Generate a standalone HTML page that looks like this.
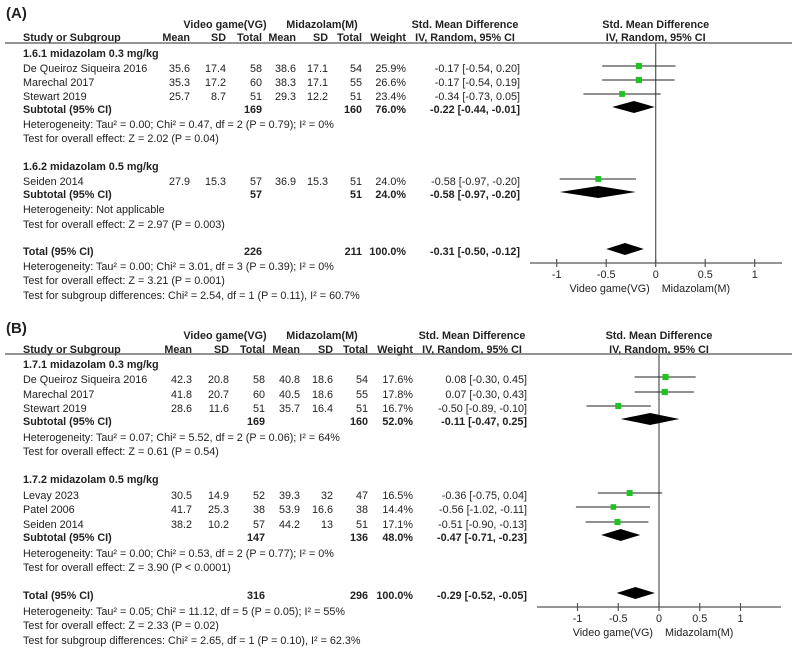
<!DOCTYPE html>
<html><head><meta charset="utf-8"><style>
body{margin:0;background:#fff}
svg{display:block;font-family:"Liberation Sans",Arial,sans-serif;font-size:10.8px;fill:#222}
.b{font-weight:bold}
</style></head><body>
<svg id="c" width="800" height="659" viewBox="0 0 800 659"></svg>
<script>
// ---- Panel A data ----
const aStudies = ["De Queiroz Siqueira 2016","Marechal 2017","Stewart 2019","Seiden 2014"];
const aVals = [[35.6,17.4,58,38.6,17.1,54],[35.3,17.2,60,38.3,17.1,55],[25.7,8.7,51,29.3,12.2,51],[27.9,15.3,57,36.9,15.3,51]];
const aWeights = [25.9,26.6,23.4,24.0];
const aEst = [-0.17,-0.17,-0.34,-0.58];
const aLo = [-0.54,-0.54,-0.73,-0.97];
const aHi = [0.20,0.19,0.05,-0.20];
const aSub = [[-0.22,-0.44,-0.01],[-0.58,-0.97,-0.20]];
const aTotal = [-0.31,-0.50,-0.12];
// ---- Panel B data ----
const bStudies = ["De Queiroz Siqueira 2016","Marechal 2017","Stewart 2019","Levay 2023","Patel 2006","Seiden 2014"];
const bVals = [[42.3,20.8,58,40.8,18.6,54],[41.8,20.7,60,40.5,18.6,55],[28.6,11.6,51,35.7,16.4,51],[30.5,14.9,52,39.3,32,47],[41.7,25.3,38,53.9,16.6,38],[38.2,10.2,57,44.2,13,51]];
const bWeights = [17.6,17.8,16.7,16.5,14.4,17.1];
const bEst = [0.08,0.07,-0.50,-0.36,-0.56,-0.51];
const bLo = [-0.30,-0.30,-0.89,-0.75,-1.02,-0.90];
const bHi = [0.45,0.43,-0.10,0.04,-0.11,-0.13];
const bSub = [[-0.11,-0.47,0.25],[-0.47,-0.71,-0.23]];
const bTotal = [-0.29,-0.52,-0.05];
const tickVals = [-1,-0.5,0,0.5,1];
const tickLabels = ["-1","-0.5","0","0.5","1"];

const NS="http://www.w3.org/2000/svg";
const svg=document.getElementById('c');
function mk(tag,attrs,parent){const e=document.createElementNS(NS,tag);for(const k in attrs)e.setAttribute(k,attrs[k]);(parent||svg).appendChild(e);return e;}
function txt(g,x,y,s,anchor,bold,name){const t=mk('text',{x:x,y:y,'text-anchor':anchor||'start','dominant-baseline':'middle'},g);if(bold)t.setAttribute('class','b');t.textContent=s;


return t;}

function panel(cfg){
  const g=mk('g',{});
  
  
  const X=v=>cfg.zero+v*cfg.unit;
  const col=cfg.cols;
  txt(g,6,cfg.titleY,cfg.title,'start',true,'panel-title').setAttribute('font-size','15');
  txt(g,225,cfg.hy1,'Video game(VG)','middle',true,'vg-group-header');
  txt(g,322,cfg.hy1,'Midazolam(M)','middle',true,'midazolam-group-header');
  txt(g,cfg.ciR-55,cfg.hy1,'Std. Mean Difference','middle',true,'smd-header');
  txt(g,cfg.zero,cfg.hy1,'Std. Mean Difference','middle',true,'plot-header');
  const hs=['Mean','SD','Total','Mean','SD','Total','Weight'];
  txt(g,23,cfg.hy2,'Study or Subgroup','start',true,'study-header');
  hs.forEach((h,i)=>txt(g,col[i],cfg.hy2,h,'end',true,'col-header'));
  txt(g,cfg.ciR-55,cfg.hy2,'IV, Random, 95% CI','middle',true,'ci-header');
  txt(g,cfg.zero,cfg.hy2,'IV, Random, 95% CI','middle',true,'plot-ci-header');
  const hl=mk('line',{x1:5,x2:792,y1:cfg.lineY,y2:cfg.lineY,stroke:'#555','stroke-width':1.3},g);
  
  const vl=mk('line',{x1:cfg.zero,x2:cfg.zero,y1:cfg.lineY,y2:cfg.axisY,stroke:'#555','stroke-width':1.2},g);
  
  const ax=mk('line',{x1:cfg.axL,x2:cfg.axR,y1:cfg.axisY,y2:cfg.axisY,stroke:'#555','stroke-width':1.3},g);
  
  tickVals.forEach((v,i)=>{
    const t=mk('line',{x1:X(v),x2:X(v),y1:cfg.axisY-4,y2:cfg.axisY+4,stroke:'#555','stroke-width':1.2},g);
    
    txt(g,X(v),cfg.axisY+12,tickLabels[i],'middle',false,'x-tick-label');
  });
  txt(g,cfg.zero-6,cfg.axisY+26,'Video game(VG)','end',false,'favours-left');
  txt(g,cfg.zero+6,cfg.axisY+26,'Midazolam(M)','start',false,'favours-right');
  cfg.rows.forEach(r=>{
    if(r.type==='text'){txt(g,23,r.y,r.s,'start',r.bold,r.name);return;}
    if(r.type==='study'){
      const i=r.i;
      txt(g,23,r.y,cfg.studies[i],'start',false,'study-name');
      cfg.vals[i].forEach((v,j)=>txt(g,col[j],r.y,String(v),'end',false,'study-value'));
      txt(g,col[6],r.y,cfg.weights[i].toFixed(1)+'%','end',false,'study-weight');
      txt(g,cfg.ciR,r.y,cfg.est[i].toFixed(2)+' ['+cfg.lo[i].toFixed(2)+', '+cfg.hi[i].toFixed(2)+']','end',false,'study-ci');
      const l=mk('line',{x1:X(cfg.lo[i]),x2:X(cfg.hi[i]),y1:r.y-3,y2:r.y-3,stroke:'#222','stroke-width':1},g);
      
      const s=3+cfg.weights[i]*cfg.sq;
      const q=mk('rect',{x:X(cfg.est[i])-s/2,y:r.y-3-s/2,width:s,height:s,fill:'#1fc21f'},g);
      
      return;
    }
    if(r.type==='sub'){
      const d=r.d;
      txt(g,23,r.y,r.label,'start',true,'subtotal-label');
      txt(g,col[2],r.y,String(r.n1),'end',true,'subtotal-n');
      txt(g,col[5],r.y,String(r.n2),'end',true,'subtotal-n');
      txt(g,col[6],r.y,r.w.toFixed(1)+'%','end',true,'subtotal-weight');
      txt(g,cfg.ciR,r.y,d[0].toFixed(2)+' ['+d[1].toFixed(2)+', '+d[2].toFixed(2)+']','end',true,'subtotal-ci');
      const cy=r.y-3,h=6;
      const p=mk('polygon',{points:`${X(d[1])},${cy} ${X(d[0])},${cy-h} ${X(d[2])},${cy} ${X(d[0])},${cy+h}`,fill:'#000'},g);
      
    }
  });
}

panel({name:'panel-a',title:'(A)',titleY:14,hy1:25,hy2:38,lineY:43,zero:655.7,unit:99,axisY:263,axL:530,axR:782,
 cols:[190,226,262,296,328,362,406],ciR:520,sq:0.12,
 studies:aStudies,vals:aVals,weights:aWeights,est:aEst,lo:aLo,hi:aHi,
 rows:[
  {type:'text',y:54,s:'1.6.1 midazolam 0.3 mg/kg',bold:true,name:'subgroup-heading'},
  {type:'study',y:69,i:0},{type:'study',y:83,i:1},{type:'study',y:97,i:2},
  {type:'sub',y:110,label:'Subtotal (95% CI)',n1:169,n2:160,w:76.0,d:aSub[0],dname:'subtotal-diamond'},
  {type:'text',y:125,s:'Heterogeneity: Tau² = 0.00; Chi² = 0.47, df = 2 (P = 0.79); I² = 0%',name:'heterogeneity'},
  {type:'text',y:139,s:'Test for overall effect: Z = 2.02 (P = 0.04)',name:'overall-effect'},
  {type:'text',y:167,s:'1.6.2 midazolam 0.5 mg/kg',bold:true,name:'subgroup-heading'},
  {type:'study',y:182,i:3},
  {type:'sub',y:195,label:'Subtotal (95% CI)',n1:57,n2:51,w:24.0,d:aSub[1],dname:'subtotal-diamond'},
  {type:'text',y:210,s:'Heterogeneity: Not applicable',name:'heterogeneity'},
  {type:'text',y:225,s:'Test for overall effect: Z = 2.97 (P = 0.003)',name:'overall-effect'},
  {type:'sub',y:252,label:'Total (95% CI)',n1:226,n2:211,w:100.0,d:aTotal,dname:'total-diamond'},
  {type:'text',y:267,s:'Heterogeneity: Tau² = 0.00; Chi² = 3.01, df = 3 (P = 0.39); I² = 0%',name:'heterogeneity'},
  {type:'text',y:281,s:'Test for overall effect: Z = 3.21 (P = 0.001)',name:'overall-effect'},
  {type:'text',y:296,s:'Test for subgroup differences: Chi² = 2.54, df = 1 (P = 0.11), I² = 60.7%',name:'subgroup-differences'}
 ]});

panel({name:'panel-b',title:'(B)',titleY:329,hy1:336,hy2:350,lineY:354,zero:659,unit:81.5,axisY:607,axL:537,axR:781,
 cols:[192,229,265,300,333,368,413],ciR:527,sq:0.18,
 studies:bStudies,vals:bVals,weights:bWeights,est:bEst,lo:bLo,hi:bHi,
 rows:[
  {type:'text',y:365,s:'1.7.1 midazolam 0.3 mg/kg',bold:true,name:'subgroup-heading'},
  {type:'study',y:380,i:0},{type:'study',y:395,i:1},{type:'study',y:409,i:2},
  {type:'sub',y:422,label:'Subtotal (95% CI)',n1:169,n2:160,w:52.0,d:bSub[0],dname:'subtotal-diamond'},
  {type:'text',y:438,s:'Heterogeneity: Tau² = 0.07; Chi² = 5.52, df = 2 (P = 0.06); I² = 64%',name:'heterogeneity'},
  {type:'text',y:452,s:'Test for overall effect: Z = 0.61 (P = 0.54)',name:'overall-effect'},
  {type:'text',y:480,s:'1.7.2 midazolam 0.5 mg/kg',bold:true,name:'subgroup-heading'},
  {type:'study',y:496,i:3},{type:'study',y:510,i:4},{type:'study',y:525,i:5},
  {type:'sub',y:538,label:'Subtotal (95% CI)',n1:147,n2:136,w:48.0,d:bSub[1],dname:'subtotal-diamond'},
  {type:'text',y:554,s:'Heterogeneity: Tau² = 0.00; Chi² = 0.53, df = 2 (P = 0.77); I² = 0%',name:'heterogeneity'},
  {type:'text',y:568,s:'Test for overall effect: Z = 3.90 (P < 0.0001)',name:'overall-effect'},
  {type:'sub',y:596,label:'Total (95% CI)',n1:316,n2:296,w:100.0,d:bTotal,dname:'total-diamond'},
  {type:'text',y:612,s:'Heterogeneity: Tau² = 0.05; Chi² = 11.12, df = 5 (P = 0.05); I² = 55%',name:'heterogeneity'},
  {type:'text',y:626,s:'Test for overall effect: Z = 2.33 (P = 0.02)',name:'overall-effect'},
  {type:'text',y:641,s:'Test for subgroup differences: Chi² = 2.65, df = 1 (P = 0.10), I² = 62.3%',name:'subgroup-differences'}
 ]});
</script>
</body></html>
